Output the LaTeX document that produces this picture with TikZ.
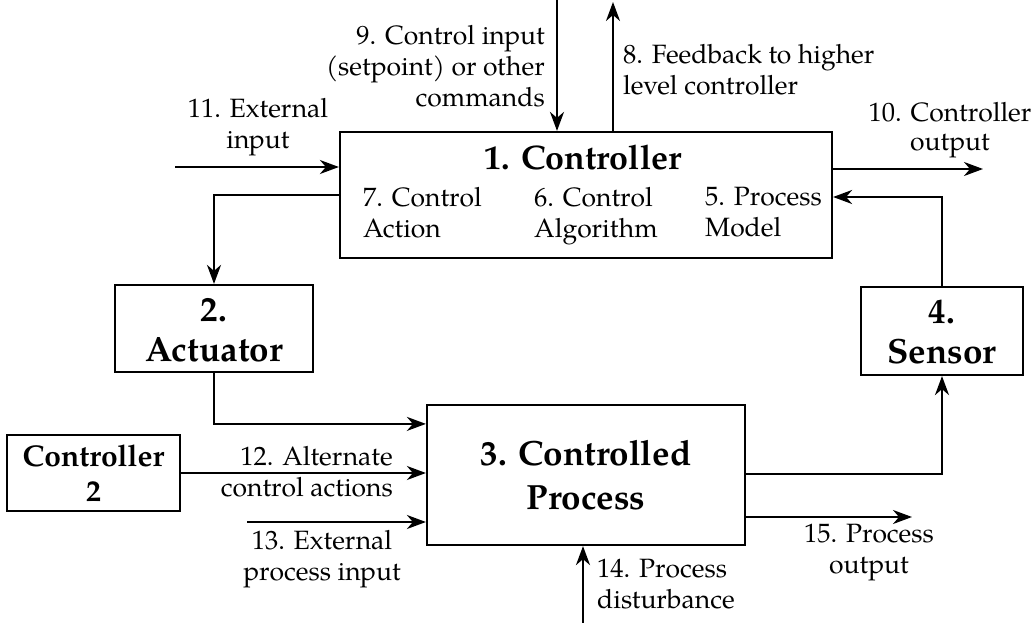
\documentclass[tikz,border=0pt]{standalone}
\usepackage{fontspec}
\setmainfont{TeX Gyre Pagella}
\usetikzlibrary{arrows.meta,calc}
\tikzset{
  box/.style={draw, line width=2.2pt, inner sep=0pt},
  arr/.style={line width=2.2pt, -{Stealth[length=19pt,width=14pt,inset=6pt]}},
  lbl/.style={inner sep=0pt, font=\fontsize{26.5}{31}\selectfont},
  ttl/.style={inner sep=0pt, font=\fontsize{35}{40}\selectfont\bfseries, align=center},
}
\begin{document}
\begin{tikzpicture}[x=1pt,y=-1pt]
\useasboundingbox (0,0) rectangle (1034,623);
% boxes
\node[box, minimum width=492pt, minimum height=126pt] (ctrl) at (586,195) {};
\node[box, minimum width=198pt, minimum height=87pt] (act) at (214,328.5) {};
\node[box, minimum width=318pt, minimum height=140pt] (proc) at (586,475) {};
\node[box, minimum width=173pt, minimum height=76pt] (ctwo) at (93.5,473) {};
\node[box, minimum width=162pt, minimum height=88pt] (sens) at (942,331) {};
% titles
\node[ttl, font=\fontsize{34}{40}\selectfont\bfseries] (tctrl) at (583,158) {1. Controller};
\node[ttl] (tact) at (214,330) {2.\\Actuator};
\node[ttl] (tsens) at (942,332) {4.\\Sensor};
\node[ttl, font=\fontsize{35}{44}\selectfont\bfseries] (tproc) at (586,475) {3. Controlled\\Process};
\node[ttl, font=\fontsize{30}{35}\selectfont\bfseries] (tctwo) at (ctwo.center) {Controller\\2};
% inner labels
\node[lbl, align=left, anchor=north west] (l7) at (363,187) {7. Control\\Action};
\node[lbl, align=left, anchor=north west] (l6) at (534,187) {6. Control\\Algorithm};
\node[lbl, align=left, anchor=north west] (l5) at (705,187) {5. Process\\Model};
% coordinates
\coordinate (cin) at (557,0);
\coordinate (fbk) at (613,2);
\coordinate (ein) at (175,167);
\coordinate (cout) at (983,169);
\coordinate (epi) at (247,522);
\coordinate (pout) at (912,517);
\coordinate (dist) at (583,623);
% connectors
\draw[arr] (cin) -- (cin |- ctrl.north);
\draw[arr] (fbk |- ctrl.north) -- (fbk);
\draw[arr] (ein) -- (ein -| ctrl.west);
\draw[arr] (cout -| ctrl.east) -- (cout);
\draw[arr] (sens.north) |- ($(ctrl.east)+(0,2)$);
\draw[arr] (ctrl.west) -| (act.north);
\draw[arr] (act.south) |- ($(proc.north west)+(0,20)$);
\draw[arr] (ctwo.east) -- (ctwo.east -| proc.west);
\draw[arr] (epi) -- (epi -| proc.west);
\draw[arr] ($(proc.east)+(0,-1)$) -| (sens.south);
\draw[arr] (pout -| proc.east) -- (pout);
\draw[arr] (dist) -- (dist |- proc.south);
% outer labels
\node[lbl, align=right, anchor=east] (l9) at (545,66) {9. Control input\\(setpoint) or other\\commands};
\node[lbl, align=center] (l11) at (258,127) {11. External\\input};
\node[lbl, align=left, anchor=west] (l8) at (623,70) {8. Feedback to higher\\level controller};
\node[lbl, align=center, font=\fontsize{26.5}{29}\selectfont] (l10) at (950,130) {10. Controller\\output};
\node[lbl, align=right, anchor=east] (l12) at (393,472) {12. Alternate\\control actions};
\node[lbl, align=center] (l13) at (322,559) {13. External\\process input};
\node[lbl, align=left, anchor=west] (l14) at (597,584) {14. Process\\disturbance};
\node[lbl, align=center] (l15) at (869,553) {15. Process\\output};
\end{tikzpicture}
\end{document}
